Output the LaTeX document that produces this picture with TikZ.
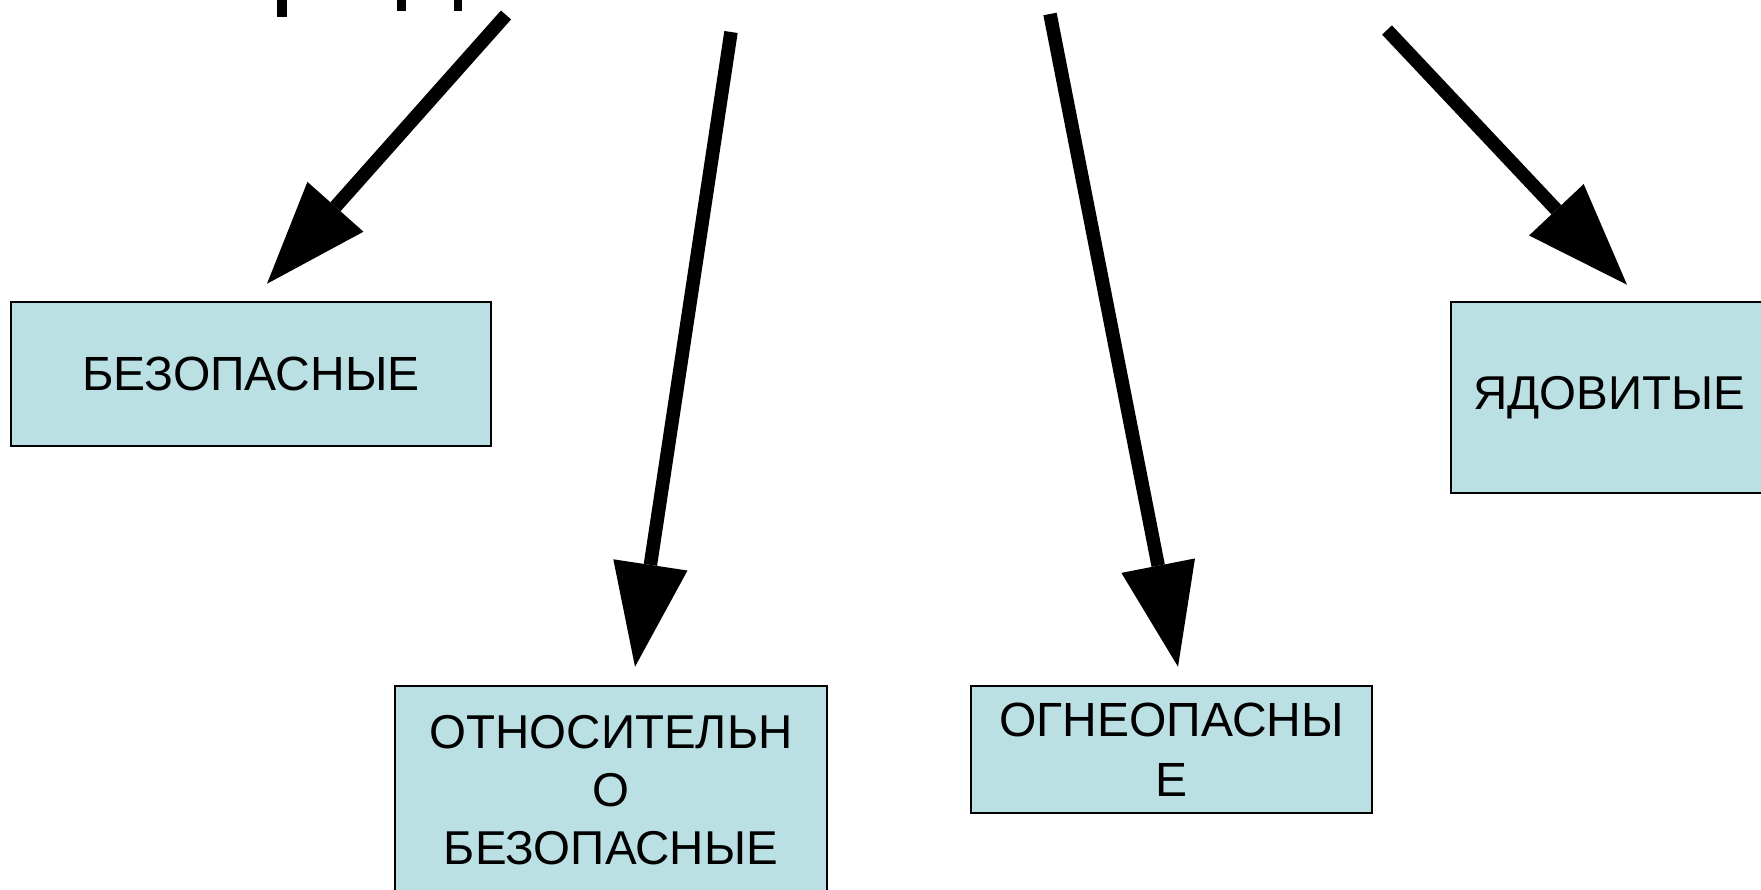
\documentclass[tikz,border=0pt]{standalone}
\usepackage{fontspec}
\setmainfont{Liberation Sans}
\usetikzlibrary{arrows.meta, calc}
\definecolor{boxblue}{RGB}{187,224,227}
\tikzstyle{block}=[draw,fill=boxblue,rectangle,line width=2.5pt,inner sep=0pt,align=center]
\tikzstyle{every node}=[font=\fontsize{48}{60}\selectfont]
\tikzstyle{bigarrow}=[line width=13.5pt,-{Triangle[length=103pt,width=75pt,line width=0pt]}]

\begin{document}
\begin{tikzpicture}[x=1pt,y=-1pt]
  \useasboundingbox (0,0) rectangle (1761,890);
  \clip (0,0) rectangle (1761,890);
  % bits of the title, cut off by the frame
  \fill (277,0) rectangle (287,17);
  \fill (397,0) rectangle (406,11);
  \fill (454,0) rectangle (462,11);
  \node[block, minimum width=480pt, minimum height=144pt] (safe) at (251,374) {БЕЗОПАСНЫЕ};
  \node[block, minimum width=432pt, minimum height=208pt, font=\fontsize{47.5}{58}\selectfont] (relsafe) at (611,790) {ОТНОСИТЕЛЬН\\О\\БЕЗОПАСНЫЕ};
  \node[block, minimum width=401pt, minimum height=127pt] (fire) at (1171.5,749.5) {ОГНЕОПАСНЫ\\Е};
  \node[block, minimum width=316pt, minimum height=191pt, font=\fontsize{47.5}{60}\selectfont] (poison) at (1609,397.5) {ЯДОВИТЫЕ};
  \coordinate (from1) at (506,15);
  \coordinate (from2) at (731,32);
  \coordinate (from3) at (1050,14);
  \coordinate (from4) at (1387,30);
  \draw[bigarrow] (from1) -- ($(safe.north)+(16,-17)$);
  \draw[bigarrow] (from2) -- ($(relsafe.north)+(24,-18)$);
  \draw[bigarrow] (from3) -- ($(fire.north)+(6.5,-18)$);
  \draw[bigarrow] (from4) -- ($(poison.north)+(18,-16)$);
\end{tikzpicture}
\end{document}
